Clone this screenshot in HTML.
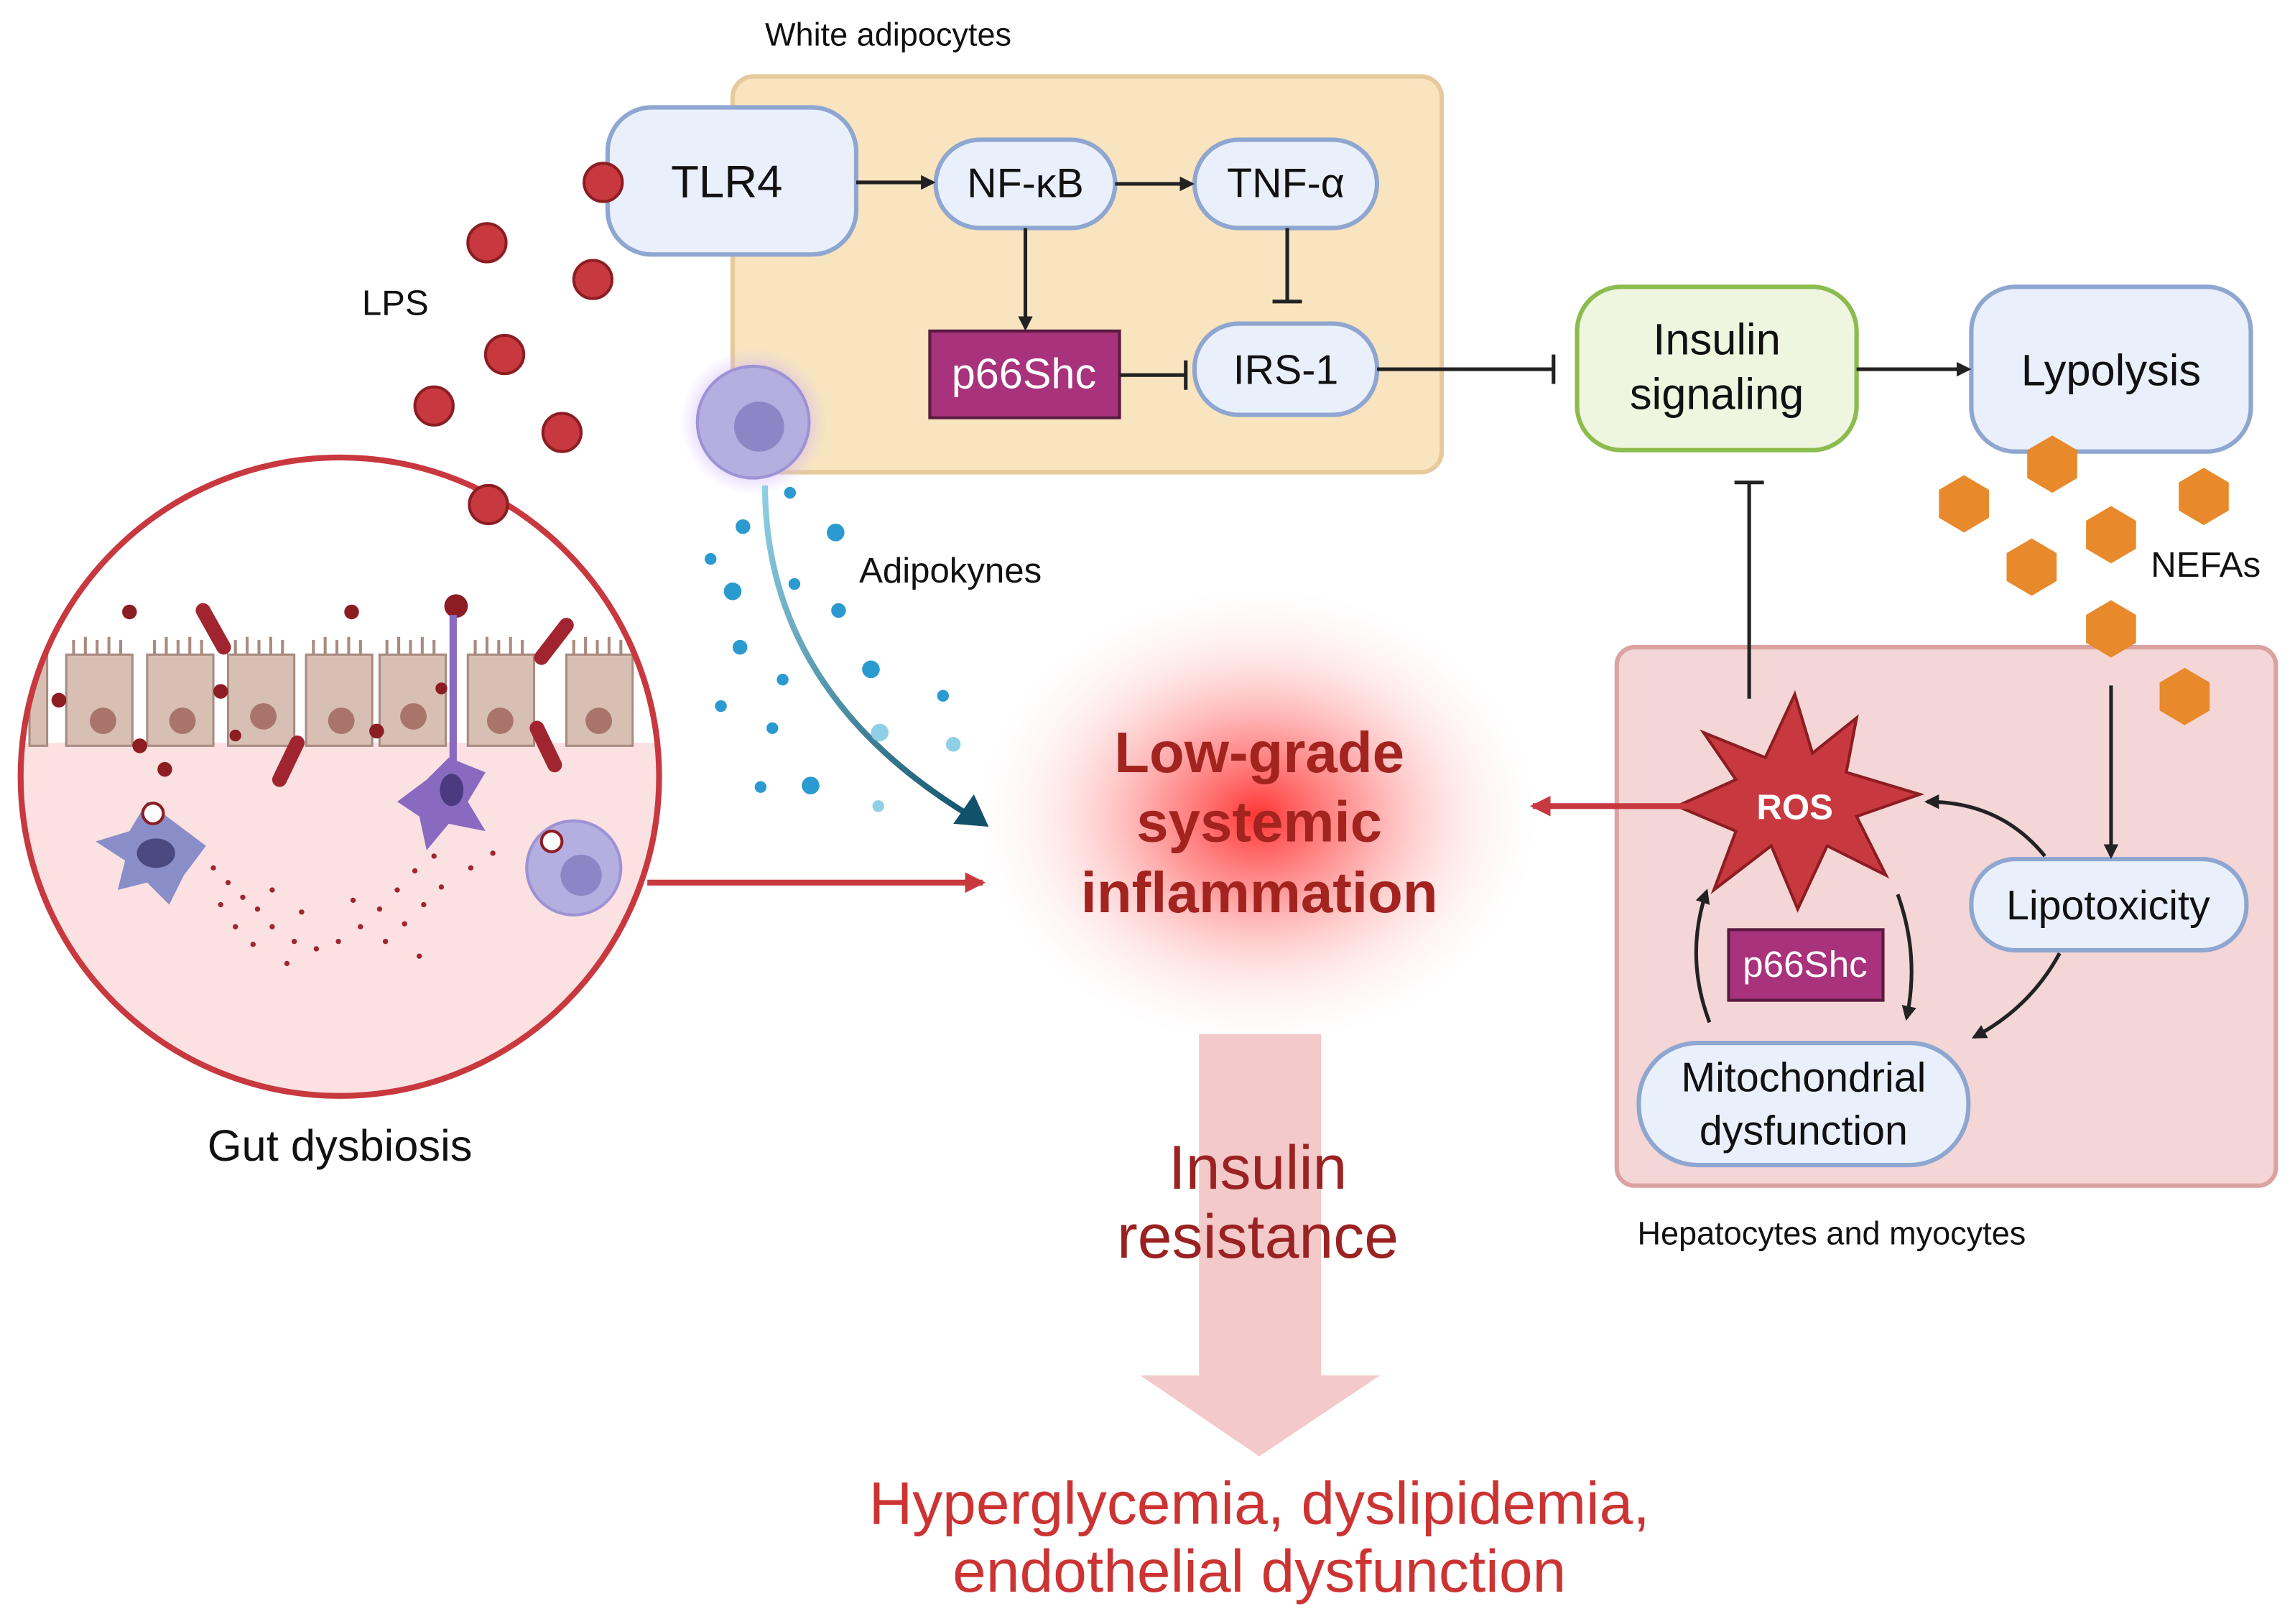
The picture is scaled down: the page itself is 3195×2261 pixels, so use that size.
<!DOCTYPE html>
<html><head><meta charset="utf-8"><style>
html,body{margin:0;padding:0;background:#fff}
svg{display:block}
text{font-family:"Liberation Sans",sans-serif}
</style></head><body>
<svg width="3195" height="2261" viewBox="0 0 1560 1104" xmlns="http://www.w3.org/2000/svg">
<defs>
<radialGradient id="glow" cx="50%" cy="50%" r="50%">
<stop offset="0" stop-color="#ff2a2a" stop-opacity="0.95"/>
<stop offset="0.35" stop-color="#ff5a5a" stop-opacity="0.6"/>
<stop offset="0.7" stop-color="#ffb0b0" stop-opacity="0.3"/>
<stop offset="1" stop-color="#ffe0e0" stop-opacity="0"/>
</radialGradient>
<radialGradient id="cellglow" cx="50%" cy="50%" r="50%">
<stop offset="0.5" stop-color="#b28cf0" stop-opacity="0.8"/>
<stop offset="1" stop-color="#d8c6ff" stop-opacity="0"/>
</radialGradient>
<linearGradient id="curve" x1="0" y1="0" x2="1" y2="1">
<stop offset="0" stop-color="#8fd0e6"/><stop offset="1" stop-color="#11516a"/>
</linearGradient>
<marker id="ah" markerWidth="10" markerHeight="10" refX="8" refY="5" orient="auto" markerUnits="userSpaceOnUse"><path d="M0,0 L10,5 L0,10 z" fill="#222"/></marker>
<marker id="ahr" markerWidth="14" markerHeight="14" refX="12" refY="7" orient="auto" markerUnits="userSpaceOnUse"><path d="M0,0 L14,7 L0,14 z" fill="#c8383f"/></marker>
<clipPath id="circ"><circle cx="231" cy="528" r="216"/></clipPath>
</defs>

<text x="520" y="31" font-size="22" fill="#111">White adipocytes</text>
<rect x="498" y="52" width="482" height="269" rx="14" fill="#f8e4bf" stroke="#e6c99c" stroke-width="3"/>

<text x="246" y="214" font-size="24" fill="#111">LPS</text>

<g stroke="#8ea6d0" stroke-width="3" fill="#e9f0fb">
<rect x="413" y="73" width="169" height="100" rx="30"/>
<rect x="636" y="95" width="122" height="60" rx="30"/>
<rect x="812" y="95" width="124" height="60" rx="30"/>
<rect x="812" y="220" width="124" height="62" rx="30"/>
<rect x="1340" y="195" width="190" height="112" rx="30"/>
</g>
<text x="494" y="134" font-size="31" text-anchor="middle" fill="#111">TLR4</text>
<text x="697" y="134" font-size="28" text-anchor="middle" fill="#111">NF-κB</text>
<text x="874" y="134" font-size="28" text-anchor="middle" fill="#111">TNF-α</text>
<text x="874" y="261" font-size="28" text-anchor="middle" fill="#111">IRS-1</text>
<text x="1435" y="262" font-size="30" text-anchor="middle" fill="#111">Lypolysis</text>

<rect x="632" y="225" width="129" height="59" fill="#a8327c" stroke="#5a1a40" stroke-width="2"/>
<text x="696" y="264" font-size="29" text-anchor="middle" fill="#fff">p66Shc</text>

<rect x="1072" y="195" width="190" height="111" rx="30" fill="#eef6e0" stroke="#8cbb4e" stroke-width="3"/>
<text x="1167" y="241" font-size="30" text-anchor="middle" fill="#111">Insulin</text>
<text x="1167" y="278" font-size="30" text-anchor="middle" fill="#111">signaling</text>

<g stroke="#222" stroke-width="2.5" fill="none">
<line x1="582" y1="124" x2="634" y2="124" marker-end="url(#ah)"/>
<line x1="758" y1="125" x2="810" y2="125" marker-end="url(#ah)"/>
<line x1="697" y1="155" x2="697" y2="223" marker-end="url(#ah)"/>
<line x1="875" y1="155" x2="875" y2="205"/><line x1="865" y1="205" x2="885" y2="205"/>
<line x1="761" y1="255" x2="806" y2="255"/><line x1="806" y1="245" x2="806" y2="265"/>
<line x1="936" y1="251" x2="1056" y2="251"/><line x1="1056" y1="241" x2="1056" y2="261"/>
<line x1="1262" y1="251" x2="1338" y2="251" marker-end="url(#ah)"/>
</g>

<rect x="1099" y="440" width="448" height="366" rx="12" fill="#f4d6d6" stroke="#dba2a2" stroke-width="3"/>
<rect x="1340" y="584" width="187" height="62" rx="30" fill="#e9f0fb" stroke="#8ea6d0" stroke-width="3"/>
<text x="1433" y="625" font-size="28" text-anchor="middle" fill="#111">Lipotoxicity</text>
<rect x="1114" y="709" width="224" height="83" rx="40" fill="#e9f0fb" stroke="#8ea6d0" stroke-width="3"/>
<text x="1226" y="742" font-size="28" text-anchor="middle" fill="#111">Mitochondrial</text>
<text x="1226" y="778" font-size="28" text-anchor="middle" fill="#111">dysfunction</text>
<text x="1113" y="846" font-size="22" fill="#111">Hepatocytes and myocytes</text>
<line x1="1189" y1="475" x2="1189" y2="328" stroke="#222" stroke-width="2.5"/>
<line x1="1179" y1="328" x2="1199" y2="328" stroke="#222" stroke-width="2.5"/>

<g fill="#e8892c">
<polygon points="1395,296 1412,306 1412,325 1395,335 1378,325 1378,306"/>
<polygon points="1335,323 1352,333 1352,352 1335,362 1318,352 1318,333"/>
<polygon points="1498,318 1515,328 1515,347 1498,357 1481,347 1481,328"/>
<polygon points="1435,344 1452,354 1452,373 1435,383 1418,373 1418,354"/>
<polygon points="1381,366 1398,376 1398,395 1381,405 1364,395 1364,376"/>
<polygon points="1435,408 1452,418 1452,437 1435,447 1418,437 1418,418"/>
<polygon points="1485,454 1502,464 1502,483 1485,493 1468,483 1468,464"/>
</g>
<text x="1462" y="392" font-size="24" fill="#111">NEFAs</text>
<line x1="1435" y1="466" x2="1435" y2="582" stroke="#222" stroke-width="2.5" marker-end="url(#ah)"/>

<polygon fill="#c8383f" stroke="#8c1d22" stroke-width="2" points="1220,472 1232,512 1262,488 1255,525 1305,540 1262,555 1282,595 1242,575 1222,618 1204,575 1165,605 1180,565 1140,548 1180,530 1158,498 1200,515"/>
<text x="1220" y="557" font-size="24" font-weight="bold" text-anchor="middle" fill="#fff">ROS</text>
<rect x="1175" y="632" width="105" height="48" fill="#a8327c" stroke="#5a1a40" stroke-width="2"/>
<text x="1227" y="664" font-size="25" text-anchor="middle" fill="#fff">p66Shc</text>
<g stroke="#222" stroke-width="2.5" fill="none">
<path d="M1390,582 Q1360,545 1310,545" marker-end="url(#ah)"/>
<path d="M1400,648 Q1380,685 1342,705" marker-end="url(#ah)"/>
<path d="M1162,695 Q1145,650 1160,606" marker-end="url(#ah)"/>
<path d="M1290,608 Q1305,650 1296,692" marker-end="url(#ah)"/>
</g>
<line x1="1160" y1="548" x2="1042" y2="548" stroke="#c8383f" stroke-width="4" marker-end="url(#ahr)"/>

<ellipse cx="855" cy="555" rx="190" ry="155" fill="url(#glow)"/>
<text x="856" y="525" font-size="39" font-weight="bold" text-anchor="middle" fill="#a3231f">Low-grade</text>
<text x="856" y="572" font-size="39" font-weight="bold" text-anchor="middle" fill="#a3231f">systemic</text>
<text x="856" y="620" font-size="39" font-weight="bold" text-anchor="middle" fill="#a3231f">inflammation</text>

<path d="M815,703 L898,703 L898,935 L938,935 L856,990 L775,935 L815,935 z" fill="#f4c9c9"/>
<text x="855" y="808" font-size="42" text-anchor="middle" fill="#9b2222">Insulin</text>
<text x="855" y="855" font-size="42" text-anchor="middle" fill="#9b2222">resistance</text>
<text x="856" y="1036" font-size="41" text-anchor="middle" fill="#cc3333">Hyperglycemia, dyslipidemia,</text>
<text x="856" y="1082" font-size="41" text-anchor="middle" fill="#cc3333">endothelial dysfunction</text>

<circle cx="512" cy="287" r="50" fill="url(#cellglow)"/>
<circle cx="512" cy="287" r="38" fill="#b5aee0" stroke="#9c92d4" stroke-width="2"/>
<circle cx="516" cy="290" r="17" fill="#8d86c6"/>
<path d="M520,330 Q520,470 660,555" stroke="url(#curve)" stroke-width="4" fill="none"/>
<polygon points="672,562 648,560 662,540" fill="#11516a"/>
<text x="584" y="396" font-size="24" fill="#111">Adipokynes</text>
<g fill="#2a9ad0">
<circle cx="537" cy="335" r="4"/><circle cx="568" cy="362" r="6"/><circle cx="505" cy="358" r="5"/><circle cx="483" cy="380" r="4"/>
<circle cx="498" cy="402" r="6"/><circle cx="540" cy="397" r="4"/><circle cx="570" cy="415" r="5"/><circle cx="503" cy="440" r="5"/>
<circle cx="592" cy="455" r="6"/><circle cx="641" cy="473" r="4"/><circle cx="490" cy="480" r="4"/><circle cx="532" cy="462" r="4"/>
<circle cx="525" cy="495" r="4"/><circle cx="598" cy="498" r="6" fill="#8fd0e6"/><circle cx="648" cy="506" r="5" fill="#8fd0e6"/><circle cx="517" cy="535" r="4"/><circle cx="551" cy="534" r="6"/><circle cx="597" cy="548" r="4" fill="#8fd0e6"/>
</g>

<g clip-path="url(#circ)">
<rect x="0" y="300" width="460" height="450" fill="#fff"/>
<rect x="0" y="505" width="460" height="250" fill="#fbe1e1"/>
<g stroke="#a98b80" stroke-width="2">
<path d="M50,445v-10M58,445v-12M66,445v-10M74,445v-12M82,445v-10M105,445v-10M113,445v-12M121,445v-10M129,445v-12M137,445v-10M160,445v-10M168,445v-12M176,445v-10M184,445v-12M192,445v-10M213,445v-10M221,445v-12M229,445v-10M237,445v-12M245,445v-10M263,445v-10M271,445v-12M279,445v-10M287,445v-12M295,445v-10M323,445v-10M331,445v-12M339,445v-10M347,445v-12M355,445v-10M390,445v-10M398,445v-12M406,445v-10M414,445v-12M422,445v-10"/>
</g>
<g fill="#d8bfb3" stroke="#a98b80" stroke-width="1.5">
<rect x="20" y="445" width="12" height="62"/>
<rect x="45" y="445" width="45" height="62"/><rect x="100" y="445" width="45" height="62"/>
<rect x="155" y="445" width="45" height="62"/><rect x="208" y="445" width="45" height="62"/>
<rect x="258" y="445" width="45" height="62"/><rect x="318" y="445" width="45" height="62"/>
<rect x="385" y="445" width="45" height="62"/>
</g>
<g fill="#a9756a">
<circle cx="70" cy="490" r="9"/><circle cx="124" cy="490" r="9"/><circle cx="179" cy="487" r="9"/><circle cx="232" cy="490" r="9"/><circle cx="281" cy="487" r="9"/><circle cx="340" cy="490" r="9"/><circle cx="407" cy="490" r="9"/>
</g>
<g fill="#8c1d22">
<circle cx="88" cy="416" r="5"/><circle cx="239" cy="416" r="5"/><circle cx="150" cy="470" r="5"/><circle cx="40" cy="476" r="5"/><circle cx="95" cy="507" r="5"/><circle cx="112" cy="523" r="5"/><circle cx="256" cy="497" r="5"/><circle cx="160" cy="500" r="4"/><circle cx="300" cy="468" r="4"/>
<circle cx="310" cy="412" r="8"/>
</g>
<g stroke="#a02530" stroke-width="10" stroke-linecap="round">
<line x1="138" y1="415" x2="152" y2="440"/><line x1="190" y1="530" x2="202" y2="505"/><line x1="368" y1="447" x2="385" y2="425"/><line x1="365" y1="495" x2="377" y2="520"/>
</g>
<line x1="308" y1="418" x2="308" y2="520" stroke="#8a6ac0" stroke-width="5"/>
<path d="M305,515 L330,525 L318,545 L330,565 L305,560 L290,578 L285,555 L270,545 L290,530 z" fill="#8a6ac0"/>
<ellipse cx="307" cy="537" rx="8" ry="11" fill="#4b3a80"/>
<path d="M100,545 L120,560 L140,575 L125,595 L115,615 L100,600 L80,605 L85,585 L65,572 L88,565 z" fill="#8a8ec8"/>
<ellipse cx="106" cy="580" rx="13" ry="10" fill="#4b4a80"/>
<circle cx="104" cy="553" r="7" fill="#fff" stroke="#8c1d22" stroke-width="2"/>
<circle cx="390" cy="590" r="32" fill="#b5aee0" stroke="#9c92d4" stroke-width="2"/>
<circle cx="395" cy="595" r="14" fill="#8d86c6"/>
<circle cx="375" cy="572" r="7" fill="#fff" stroke="#8c1d22" stroke-width="2"/>
<g fill="#a02530">
<circle cx="145" cy="590" r="1.8"/><circle cx="155" cy="600" r="1.8"/><circle cx="165" cy="610" r="1.8"/><circle cx="175" cy="618" r="1.8"/><circle cx="185" cy="630" r="1.8"/><circle cx="200" cy="640" r="1.8"/><circle cx="215" cy="645" r="1.8"/><circle cx="150" cy="615" r="1.8"/><circle cx="160" cy="630" r="1.8"/><circle cx="172" cy="642" r="1.8"/><circle cx="230" cy="640" r="1.8"/><circle cx="245" cy="630" r="1.8"/><circle cx="258" cy="618" r="1.8"/><circle cx="270" cy="605" r="1.8"/><circle cx="282" cy="592" r="1.8"/><circle cx="295" cy="582" r="1.8"/><circle cx="262" cy="640" r="1.8"/><circle cx="275" cy="628" r="1.8"/><circle cx="288" cy="615" r="1.8"/><circle cx="300" cy="603" r="1.8"/><circle cx="240" cy="612" r="1.8"/><circle cx="185" cy="605" r="1.8"/><circle cx="205" cy="620" r="1.8"/><circle cx="320" cy="590" r="1.8"/><circle cx="335" cy="580" r="1.8"/><circle cx="285" cy="650" r="1.8"/><circle cx="195" cy="655" r="1.8"/>
</g>
</g>
<circle cx="231" cy="528" r="217" fill="none" stroke="#c8383f" stroke-width="4"/>
<text x="231" y="789" font-size="30" text-anchor="middle" fill="#111">Gut dysbiosis</text>
<line x1="440" y1="600" x2="668" y2="600" stroke="#c8383f" stroke-width="4" marker-end="url(#ahr)"/>

<g fill="#c8383f" stroke="#8c1d22" stroke-width="2">
<circle cx="410" cy="124" r="13"/><circle cx="331" cy="165" r="13"/><circle cx="403" cy="190" r="13"/>
<circle cx="343" cy="241" r="13"/><circle cx="295" cy="276" r="13"/><circle cx="382" cy="294" r="13"/><circle cx="332" cy="343" r="13"/>
</g>
</svg>
</body></html>
